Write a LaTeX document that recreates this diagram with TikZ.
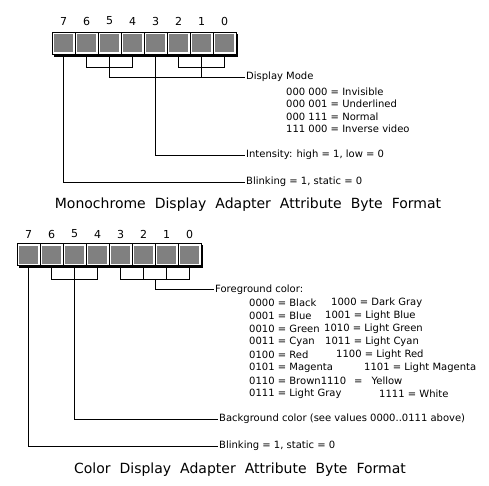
\documentclass[tikz,border=0pt]{standalone}
\usepackage{fontspec}
\setmainfont{DejaVu Sans}
\usetikzlibrary{calc}
\tikzset{
  bit/.style={rectangle, draw=black, line width=0.8pt, fill=white, minimum width=23pt, minimum height=22pt, inner sep=0pt, outer sep=0pt,
    path picture={\fill[black!50] ([shift={(2pt,2pt)}]path picture bounding box.south west) rectangle ([shift={(-2pt,-2pt)}]path picture bounding box.north east);}},
  digit/.style={font=\fontsize{11}{12}\selectfont, inner sep=0pt},
  lbl/.style={anchor=west, font=\fontsize{10}{12}\selectfont, inner sep=1pt},
  ttl/.style={font=\fontsize{14}{16}\selectfont, inner sep=0pt},
  wire/.style={line width=0.9pt}
}
\begin{document}
\begin{tikzpicture}[x=1pt,y=-1pt]
\useasboundingbox (0,0) rectangle (489,485);
% ---------- Monochrome ----------
\fill (54,34) rectangle (238,57);
\foreach \i in {0,...,7}{
  \node[bit] (m\i) at ({224.5-23*\i},43) {};
  \node[digit] at ({224.5-23*\i},21) {\i};
}
\node[lbl] (dm) at (245,77) {Display Mode};
\node[lbl] (mv1) at (285,91.5) {000 000 = Invisible};
\node[lbl] (mv2) at (285,104) {000 001 = Underlined};
\node[lbl] (mv3) at (285,116.5) {000 111 = Normal};
\node[lbl] (mv4) at (285,129) {111 000 = Inverse video};
\node[lbl] (mint) at (245,155) {Intensity: high = 1, low = 0};
\node[lbl] (mbl) at (245,182) {Blinking = 1, static = 0};
\node[ttl] (mttl) at (248,205) {\spaceskip=9pt Monochrome Display Adapter Attribute Byte Format};
\draw[wire] (m6.south) -- (m6.south |- 0,67) -- (m4.south |- 0,67) -- (m4.south);
\draw[wire] (m2.south) -- (m2.south |- 0,67) -- (m0.south |- 0,67) -- (m0.south);
\draw[wire] (m5.south) |- (dm.west);
\draw[wire] (m1.south) -- (m1.south |- dm.west);
\draw[wire] (m3.south) |- (mint.west);
\draw[wire] (m7.south) |- (mbl.west);
% ---------- Color ----------
\fill (19,245) rectangle (203,268);
\foreach \i in {0,...,7}{
  \node[bit] (c\i) at ({189.5-23*\i},254.5) {};
  \node[digit] at ({189.5-23*\i},234) {\i};
}
\node[lbl] (fg) at (214,289.5) {Foreground color:};
\node[lbl] (fa0) at (248,303) {0000 = Black};
\node[lbl] (fb0) at (330,303) {1000 = Dark Gray};
\node[lbl] (fa1) at (248,316) {0001 = Blue};
\node[lbl] (fb1) at (324,316) {1001 = Light Blue};
\node[lbl] (fa2) at (248,329) {0010 = Green};
\node[lbl] (fb2) at (323,329) {1010 = Light Green};
\node[lbl] (fa3) at (248,342) {0011 = Cyan};
\node[lbl] (fb3) at (324,342) {1011 = Light Cyan};
\node[lbl] (fa4) at (248,355) {0100 = Red};
\node[lbl] (fb4) at (335,355) {1100 = Light Red};
\node[lbl] (fa5) at (248,368) {0101 = Magenta};
\node[lbl] (fb5) at (363,368) {1101 = Light Magenta};
\node[lbl] (fa6) at (248,381) {0110 = Brown1110\hspace{8pt}=\hspace{9pt}Yellow};
\node[lbl] (fa7) at (248,394) {0111 = Light Gray};
\node[lbl] (fb7) at (378,394) {1111 = White};
\node[lbl] (bg) at (218,419) {Background color (see values 0000..0111 above)};
\node[lbl] (cbl) at (218,446) {Blinking = 1, static = 0};
\node[ttl] (cttl) at (240,470) {\spaceskip=9pt Color Display Adapter Attribute Byte Format};
\draw[wire] (c6.south) -- (c6.south |- 0,279) -- (c4.south |- 0,279) -- (c4.south);
\draw[wire] (c3.south) -- (c3.south |- 0,279) -- (c0.south |- 0,279) -- (c0.south);
\draw[wire] (c2.south) -- (c2.south |- 0,279);
\draw[wire] (c1.south) -- (c1.south |- 0,279);
\coordinate (fs) at (155,279);
\draw[wire] (fs) |- (fg.west);
\draw[wire] (c5.south) |- (bg.west);
\draw[wire] (c7.south) |- (cbl.west);
\end{tikzpicture}
\end{document}
